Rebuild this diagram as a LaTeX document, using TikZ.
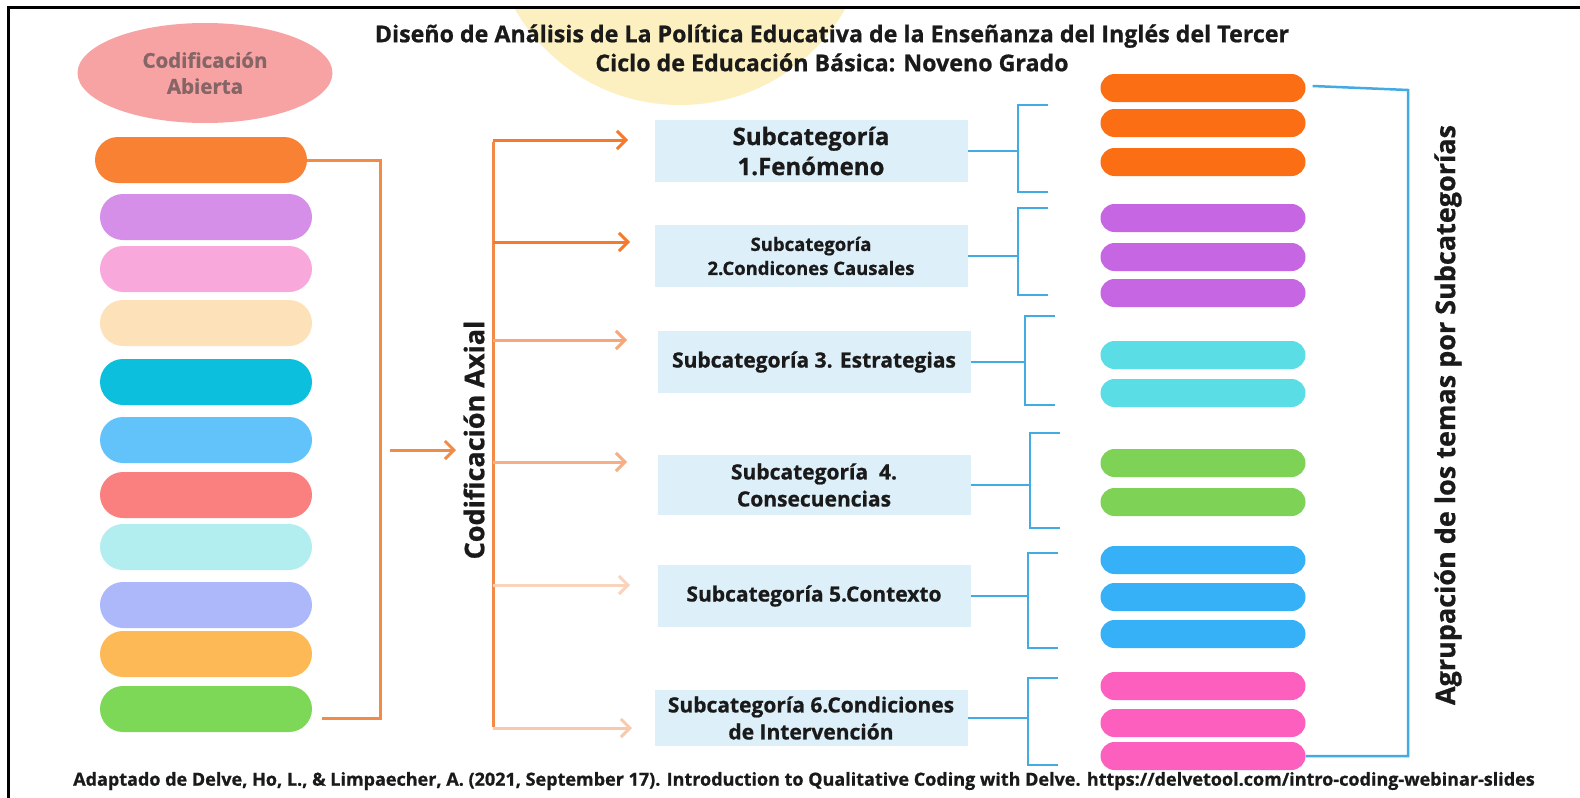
\documentclass[tikz,border=0pt]{standalone}
\usepackage{fontspec}
\setmainfont{Open Sans}[BoldFeatures={FakeBold=0.8}]
\usetikzlibrary{arrows.meta,calc,shapes.geometric}
\definecolor{yellowbg}{HTML}{FCF0C0}
\definecolor{abierta}{HTML}{F7A3A3}
\definecolor{abiertatxt}{HTML}{856565}
\definecolor{cA}{HTML}{F98133}
\definecolor{cB}{HTML}{D58FE8}
\definecolor{cC}{HTML}{F9A8DB}
\definecolor{cD}{HTML}{FDE1B8}
\definecolor{cE}{HTML}{0BBFDD}
\definecolor{cF}{HTML}{62C3FA}
\definecolor{cG}{HTML}{FA8080}
\definecolor{cH}{HTML}{B2EEF0}
\definecolor{cI}{HTML}{ACB8FA}
\definecolor{cJ}{HTML}{FDB955}
\definecolor{cK}{HTML}{7DD857}
\definecolor{rOr}{HTML}{FC6E14}
\definecolor{rPu}{HTML}{C766E3}
\definecolor{rCy}{HTML}{5BDDE5}
\definecolor{rGr}{HTML}{7ED255}
\definecolor{rBl}{HTML}{36B0F7}
\definecolor{rPk}{HTML}{FD5FBE}
\definecolor{orline}{HTML}{F28A48}
\definecolor{arA}{HTML}{F47B2D}
\definecolor{arB}{HTML}{F6A678}
\definecolor{arC}{HTML}{F5AE85}
\definecolor{arD}{HTML}{FAD3BC}
\definecolor{arE}{HTML}{F9C9AC}
\definecolor{subbg}{HTML}{DDF0FA}
\definecolor{blline}{HTML}{42ABE3}
\definecolor{txt}{HTML}{1A1A1A}
\tikzset{
  lpill/.style={fill=#1, draw=none, rounded corners=23pt, minimum width=212pt, minimum height=46pt, inner sep=0pt},
  rpill/.style={fill=#1, draw=none, rounded corners=14pt, minimum width=205pt, minimum height=28pt, inner sep=0pt},
  subbox/.style={fill=subbg, draw=none, minimum width=313pt, minimum height=62pt, inner sep=0pt, align=center, text=txt, font=\bfseries\fontsize{21}{27}\selectfont},
  orconn/.style={draw=orline, line width=3pt},
  orarrow/.style={draw=#1, line width=3pt, -{Straight Barb[length=9pt,width=18pt,line width=3pt]}},
  blconn/.style={draw=blline, line width=2.5pt},
}
\begin{document}
\begin{tikzpicture}[x=1pt,y=-1pt]
\useasboundingbox (0,0) rectangle (1580,798);
\fill[white] (0,0) rectangle (1580,798);
% yellow circle
\begin{scope}
\clip (8,8) rectangle (1580,798);
\fill[yellowbg] (680,-85) circle (190);
\end{scope}
% frame
\draw[line width=3pt, black] (8,798) -- (8,7) -- (1580,7);
% title
\node[text=txt, font=\bfseries\fontsize{23.2}{29}\selectfont, align=center] (title) at (832,48)
  {Diseño de Análisis de La Política Educativa de la Enseñanza del Inglés del Tercer\\Ciclo de Educación Básica: Noveno Grado};
% Codificacion Abierta
\node[ellipse, fill=abierta, minimum width=255pt, minimum height=100pt, inner sep=0pt, text=abiertatxt, align=center, font=\bfseries\fontsize{20.5}{26}\selectfont] (abierta) at (205,73) {Codificación\\Abierta};
% left pills
\node[lpill=cA] (L1) at (201,160) {};
\node[lpill=cB] (L2) at (206,217) {};
\node[lpill=cC] (L3) at (206,269) {};
\node[lpill=cD] (L4) at (206,323) {};
\node[lpill=cE] (L5) at (206,382) {};
\node[lpill=cF] (L6) at (206,440) {};
\node[lpill=cG] (L7) at (206,495) {};
\node[lpill=cH] (L8) at (206,547) {};
\node[lpill=cI] (L9) at (206,605) {};
\node[lpill=cJ] (L10) at (206,654) {};
\node[lpill=cK] (L11) at (206,709) {};
% left bracket
\coordinate (lbA) at (380,160);
\coordinate (lbB) at (380,718);
\coordinate (lbC) at (322,718);
\draw[orconn] (L1.east) -- (lbA) -- (lbB) -- (lbC);
% axial arrow
\coordinate (axA) at (390,450);
\coordinate (axB) at (456,450);
\draw[orarrow=orline] (axA) -- (axB);
\node[rotate=90, text=txt, font=\bfseries\fontsize{27}{32}\selectfont] (axial) at (474,440) {Codificación Axial};
% vertical axial line
\coordinate (v1) at (493,140);
\coordinate (v2) at (493,242);
\coordinate (v3) at (493,340);
\coordinate (v4) at (493,462);
\coordinate (v5) at (493,585);
\coordinate (v6) at (493,728);
\draw[orconn] ([yshift=-1.5pt]v1) -- ([yshift=1.5pt]v6);
\coordinate (a1) at (628,140);
\coordinate (a2) at (630,242);
\coordinate (a3) at (627,340);
\coordinate (a4) at (627,462);
\coordinate (a5) at (630,585);
\coordinate (a6) at (632,728);
\draw[orarrow=arA] (v1) -- (a1);
\draw[orarrow=arA] (v2) -- (a2);
\draw[orarrow=arB] (v3) -- (a3);
\draw[orarrow=arC] (v4) -- (a4);
\draw[orarrow=arD] (v5) -- (a5);
\draw[orarrow=arE] (v6) -- (a6);
% subcategory boxes
\node[subbox, font=\bfseries\fontsize{24}{30}\selectfont] (S1) at (811,151) {Subcategoría\\1.Fenómeno};
\node[subbox, font=\bfseries\fontsize{18.5}{24}\selectfont] (S2) at (811,256) {Subcategoría\\2.Condicones Causales};
\node[subbox] (S3) at (814,362) {Subcategoría 3. Estrategias};
\node[subbox, minimum height=60pt, font=\bfseries\fontsize{21}{27}\selectfont] (S4) at (814,485) {Subcategoría\ \ 4.\\Consecuencias};
\node[subbox] (S5) at (814,596) {Subcategoría 5.Contexto};
\node[subbox, minimum height=56pt, font=\bfseries\fontsize{21}{27}\selectfont] (S6) at (811,718) {Subcategoría 6.Condiciones\\de Intervención};
% blue brackets
\foreach \s/\bx/\ty/\by in {S1/1018/105/192, S2/1018/208/295, S3/1025/316/405, S4/1030/433/528, S5/1028/553/648, S6/1028/678/765}{
  \coordinate (\s m) at (\bx,0);
  \draw[blconn] (\s.east) -- (\s.east -| \s m);
  \draw[blconn] (\bx+30,\ty) -- (\bx,\ty) -- (\bx,\by) -- (\bx+30,\by);
}
% right pills
\node[rpill=rOr] (R1) at (1203,88) {};
\node[rpill=rOr] (R2) at (1203,123) {};
\node[rpill=rOr] (R3) at (1203,162) {};
\node[rpill=rPu] (R4) at (1203,218) {};
\node[rpill=rPu] (R5) at (1203,257) {};
\node[rpill=rPu] (R6) at (1203,293) {};
\node[rpill=rCy] (R7) at (1203,355) {};
\node[rpill=rCy] (R8) at (1203,393) {};
\node[rpill=rGr] (R9) at (1203,463) {};
\node[rpill=rGr] (R10) at (1203,502) {};
\node[rpill=rBl] (R11) at (1203,560) {};
\node[rpill=rBl] (R12) at (1203,597) {};
\node[rpill=rBl] (R13) at (1203,634) {};
\node[rpill=rPk] (R14) at (1203,686) {};
\node[rpill=rPk] (R15) at (1203,723) {};
\node[rpill=rPk] (R16) at (1203,756) {};
% big bracket
\coordinate (rbA) at (1408,90);
\coordinate (rbB) at (1408,756);
\draw[blconn] ([xshift=7pt,yshift=2pt]R1.east) -- (rbA) -- (rbB) -- (R16.east);
\node[rotate=90, text=txt, font=\bfseries\fontsize{27}{32}\selectfont] (agrup) at (1448,415) {Agrupación de los temas por Subcategorías};
% footer
\node[text=txt, font=\bfseries\fontsize{18}{22}\selectfont] (foot) at (804,781) {Adaptado de Delve, Ho, L., \& Limpaecher, A. (2021, September 17). Introduction to Qualitative Coding with Delve. https://delvetool.com/intro-coding-webinar-slides};
\end{tikzpicture}
\end{document}
